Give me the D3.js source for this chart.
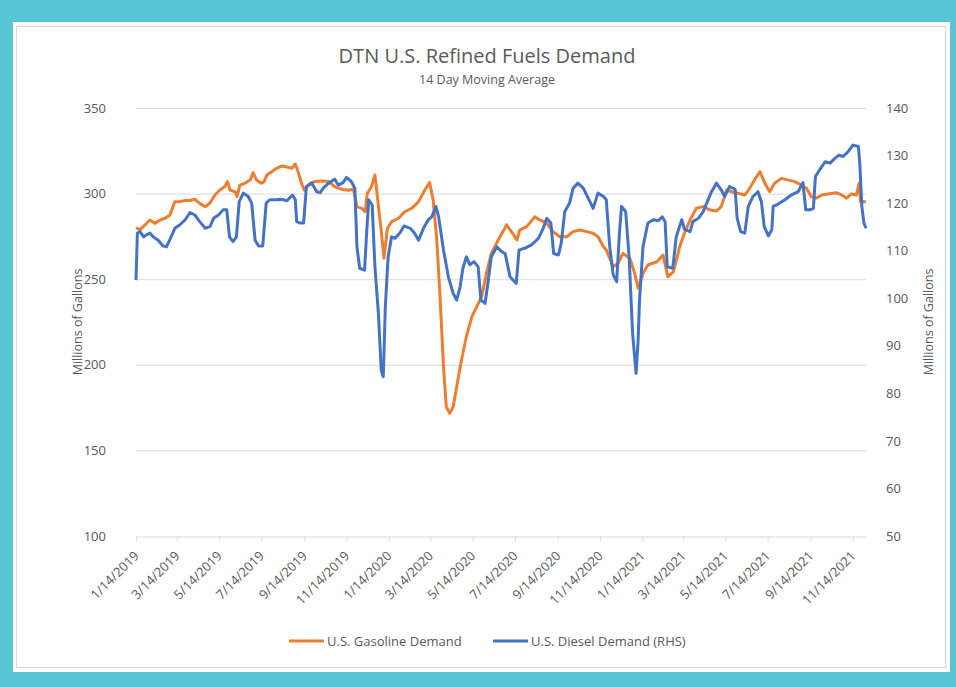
<!DOCTYPE html>
<html>
<head>
<meta charset="utf-8">
<script src="https://cdn.jsdelivr.net/npm/d3@7"></script>
<style>
  html, body { margin: 0; padding: 0; background: #58c5d6; }
  svg { display: block; font-family: "Open Sans", sans-serif; }
</style>
</head>
<body>
<div id="chart"></div>
<script>
// x tick labels (every two months)
const tickLabels = ["1/14/2019", "3/14/2019", "5/14/2019", "7/14/2019", "9/14/2019", "11/14/2019",
  "1/14/2020", "3/14/2020", "5/14/2020", "7/14/2020", "9/14/2020", "11/14/2020",
  "1/14/2021", "3/14/2021", "5/14/2021", "7/14/2021", "9/14/2021", "11/14/2021"];
const leftTicks = [100, 150, 200, 250, 300, 350];
const rightTicks = [50, 60, 70, 80, 90, 100, 110, 120, 130, 140];

// dates as Excel serial numbers, values in millions of gallons
const gasDays = [43479, 43485, 43492, 43499, 43506, 43514, 43521, 43528, 43535, 43542, 43550, 43557, 43564,
  43571, 43579, 43586, 43593, 43600, 43607, 43611, 43615, 43622, 43625, 43629, 43636, 43644, 43648, 43653,
  43660, 43664, 43668, 43675, 43682, 43689, 43697, 43704, 43709, 43713, 43718, 43722, 43730, 43737, 43747,
  43757, 43766, 43776, 43785, 43793, 43798, 43805, 43810, 43813, 43819, 43824, 43828, 43833, 43837, 43842,
  43848, 43858, 43867, 43877, 43887, 43896, 43903, 43908, 43913, 43918, 43923, 43927, 43932, 43937, 43942,
  43949, 43956, 43964, 43971, 43978, 43985, 43992, 44002, 44014, 44021, 44029, 44033, 44043, 44055, 44062,
  44072, 44081, 44091, 44101, 44110, 44120, 44130, 44139, 44146, 44154, 44158, 44168, 44175, 44182, 44192,
  44199, 44204, 44211, 44218, 44231, 44240, 44247, 44255, 44264, 44271, 44279, 44288, 44298, 44308, 44317,
  44324, 44332, 44339, 44348, 44358, 44365, 44372, 44380, 44387, 44394, 44401, 44411, 44420, 44430, 44440,
  44447, 44454, 44461, 44469, 44478, 44490, 44498, 44505, 44512, 44519, 44523, 44525, 44533];
const gasValues = [280, 279, 281.7, 284.6, 282.6, 284.6, 285.6, 287.5, 295.3, 295.3, 296, 296, 296.7,
  294.3, 292.3, 294.7, 299.2, 302.1, 304, 307, 302, 301.1, 298.2, 305, 306, 308, 312.2, 308,
  306, 307, 310.9, 312.8, 314.8, 316.1, 315.5, 314.8, 317.3, 312.8, 306, 302, 306, 307, 307.4,
  307, 304, 302.5, 302, 302.5, 292.4, 291.4, 289.4, 300.2, 304, 310.9, 296.3, 278.7, 262.2, 279.7,
  283.6, 285.6, 289.4, 291.4, 295.3, 302.1, 306.4, 296.3, 274.8, 239.8, 198.9, 175.5, 171.7, 175.5, 187.2,
  202.8, 216.4, 228.1, 234, 239.8, 253.4, 265.1, 272.9, 281.7, 277.8, 272.9, 278.7, 280.7, 286.5, 284.6,
  282.7, 277.8, 274.8, 274.8, 277.8, 278.7, 277.8, 276.8, 274.8, 269, 267.1, 257.3, 259.3, 265.1, 262.2,
  253.4, 244.7, 253.4, 258.3, 260.2, 264.1, 251.4, 254.4, 269, 277, 284.6, 291.4, 292.4, 290.4, 289.8,
  292.4, 302.1, 301.1, 300.2, 299.2, 303.1, 308, 312.8, 306, 301.1, 306, 308.9, 308, 307, 305,
  303.1, 298.2, 297.3, 299.2, 299.8, 300.5, 299.2, 297.3, 299.8, 299.2, 306, 295.3, 295.3];

const dieselDays = [43479, 43481, 43485, 43490, 43494, 43499, 43504, 43511, 43518, 43523, 43531, 43535, 43542,
  43550, 43557, 43564, 43571, 43579, 43586, 43591, 43598, 43605, 43610, 43614, 43619, 43624, 43628, 43634,
  43641, 43646, 43651, 43656, 43662, 43667, 43672, 43682, 43689, 43697, 43705, 43709, 43711, 43716, 43721,
  43725, 43733, 43740, 43745, 43749, 43757, 43766, 43771, 43778, 43783, 43790, 43795, 43798, 43802, 43809,
  43812, 43815, 43820, 43824, 43829, 43833, 43836, 43839, 43843, 43848, 43853, 43860, 43866, 43875, 43881,
  43887, 43894, 43901, 43906, 43912, 43916, 43923, 43930, 43937, 43942, 43947, 43951, 43956, 43961, 43967,
  43973, 43977, 43983, 43987, 43992, 44000, 44007, 44012, 44019, 44028, 44032, 44040, 44050, 44060, 44067,
  44072, 44078, 44082, 44089, 44093, 44098, 44105, 44110, 44117, 44125, 44132, 44139, 44146, 44154, 44158,
  44163, 44168, 44173, 44177, 44180, 44186, 44191, 44196, 44201, 44204, 44206, 44211, 44218, 44226, 44233,
  44239, 44243, 44246, 44254, 44259, 44267, 44271, 44279, 44283, 44291, 44298, 44303, 44310, 44317, 44324,
  44329, 44336, 44344, 44347, 44352, 44358, 44363, 44370, 44377, 44382, 44386, 44392, 44397, 44399, 44406,
  44416, 44425, 44435, 44442, 44446, 44452, 44457, 44460, 44466, 44474, 44481, 44488, 44494, 44500, 44507,
  44514, 44522, 44524, 44527, 44530, 44533];
const dieselValues = [103.8, 113.7, 114, 112.9, 113.3, 113.7, 112.9, 112.2, 111, 110.8, 113.3, 114.7, 115.4,
  116.5, 118, 117.5, 116.1, 114.7, 115.1, 116.8, 117.5, 118.6, 118.6, 112.9, 111.9, 112.9, 120.3, 122.1,
  121.4, 120, 112.2, 111, 111, 120, 120.7, 120.7, 120.8, 120.5, 121.7, 120.7, 116.1, 115.8, 115.8,
  123.5, 124.2, 122.4, 122.2, 123.1, 124.2, 125, 123.8, 124.3, 125.4, 124.5, 123.1, 110.8, 106.3, 105.9,
  113.7, 120.7, 119.6, 106.6, 96.8, 84.9, 83.5, 98.2, 108.7, 112.9, 112.6, 113.7, 115.2, 114.7, 113.7,
  112.2, 114.7, 116.5, 117.1, 119.3, 117.1, 110.1, 104.5, 101, 99.6, 102.4, 106.3, 108.7, 107, 107.7,
  106.6, 99.6, 98.9, 103.1, 108.7, 110.8, 109.8, 109.4, 104.5, 103.1, 110.1, 110.5, 111.2, 112.6, 114.7,
  116.8, 115.8, 109.4, 109.1, 111.6, 118.2, 120, 123.1, 124.2, 123.1, 121, 118.9, 122.1, 121.4, 120.7,
  110.8, 104.9, 103.5, 113.7, 119.3, 118.2, 108.7, 92.6, 84.2, 91.2, 99.6, 110.8, 115.8, 116.5, 116.3,
  117.1, 116.1, 106.6, 106.3, 112.9, 116.5, 114.5, 114, 116.1, 116.8, 118.2, 120, 122.4, 124.2, 122.8,
  121.4, 123.5, 122.9, 116.8, 114, 113.7, 119.3, 121.4, 122.4, 120.3, 115.1, 113.1, 114.4, 119.3, 119.8,
  120.7, 121.7, 122.4, 124.3, 118.6, 118.6, 118.9, 125.6, 127, 128.7, 128.4, 129.4, 130.1, 129.8, 130.8,
  132.2, 131.9, 128.4, 119.3, 115.8, 114.7];

const width = 956, height = 687;
const margin = {top: 108, right: 90, bottom: 151, left: 136};
const textColor = "#595959", gridColor = "#d9d9d9";
const gasColor = "#ed7d31", dieselColor = "#4472c4";

const excelDate = s => new Date(Date.UTC(1899, 11, 30) + s * 864e5);
const parseLabel = s => { const p = s.split("/"); return new Date(Date.UTC(+p[2], +p[0] - 1, +p[1])); };

const svg = d3.select("#chart").append("svg")
  .attr("width", width)
  .attr("height", height);

// white card with thin border
svg.append("rect").attr("x", 13).attr("y", 22).attr("width", 937).attr("height", 650).attr("fill", "#fff");
svg.append("rect").attr("x", 16.5).attr("y", 26.5).attr("width", 929).attr("height", 641)
  .attr("fill", "none").attr("stroke", gridColor);

const x = d3.scaleUtc()
  .domain([excelDate(gasDays[0]), excelDate(gasDays[gasDays.length - 1])])
  .range([margin.left, width - margin.right]);
const yLeft = d3.scaleLinear().domain([100, 350]).range([height - margin.bottom, margin.top]);
const yRight = d3.scaleLinear().domain([50, 140]).range([height - margin.bottom, margin.top]);

// gridlines on left axis
svg.append("g").selectAll("line")
  .data(leftTicks.slice(1))
  .enter().append("line")
  .attr("x1", margin.left).attr("x2", width - margin.right)
  .attr("y1", d => yLeft(d) + 0.5).attr("y2", d => yLeft(d) + 0.5)
  .attr("stroke", gridColor);

// x axis
const xAxis = d3.axisBottom(x)
  .tickValues(tickLabels.map(parseLabel))
  .tickFormat((d, i) => tickLabels[i])
  .tickSize(5)
  .tickSizeOuter(0);
const gx = svg.append("g")
  .attr("transform", "translate(0," + (height - margin.bottom + 0.5) + ")")
  .call(xAxis);
gx.select(".domain").attr("stroke", gridColor);
gx.selectAll(".tick line").attr("stroke", gridColor);
gx.selectAll(".tick text")
  .attr("fill", textColor)
  .attr("font-size", 13)
  .attr("font-family", "Open Sans")
  .attr("text-anchor", "end")
  .attr("x", -12).attr("y", 12).attr("dy", "0.35em")
  .attr("transform", "rotate(-45)");

// y axes (labels only)
const gl = svg.append("g")
  .attr("transform", "translate(" + margin.left + ",0)")
  .call(d3.axisLeft(yLeft).tickValues(leftTicks).tickSize(0).tickPadding(30));
gl.select(".domain").remove();
gl.selectAll("text").attr("fill", textColor).attr("font-size", 13).attr("font-family", "Open Sans");

const gr = svg.append("g")
  .attr("transform", "translate(" + (width - margin.right) + ",0)")
  .call(d3.axisRight(yRight).tickValues(rightTicks).tickSize(0).tickPadding(20));
gr.select(".domain").remove();
gr.selectAll("text").attr("fill", textColor).attr("font-size", 13).attr("font-family", "Open Sans");

// axis titles
svg.append("text")
  .attr("transform", "translate(82,322) rotate(-90)")
  .attr("text-anchor", "middle")
  .attr("fill", textColor).attr("font-size", 12.5)
  .text("Millions of Gallons");
svg.append("text")
  .attr("transform", "translate(933,322) rotate(-90)")
  .attr("text-anchor", "middle")
  .attr("fill", textColor).attr("font-size", 12.5)
  .text("Millions of Gallons");

// lines
const gasLine = d3.line()
  .x((d, i) => x(excelDate(gasDays[i])))
  .y(d => yLeft(d));
const dieselLine = d3.line()
  .x((d, i) => x(excelDate(dieselDays[i])))
  .y(d => yRight(d));

svg.append("path")
  .datum(gasValues)
  .attr("d", gasLine)
  .attr("fill", "none")
  .attr("stroke", gasColor)
  .attr("stroke-width", 3)
  .attr("stroke-linejoin", "round");

svg.append("path")
  .datum(dieselValues)
  .attr("d", dieselLine)
  .attr("fill", "none")
  .attr("stroke", dieselColor)
  .attr("stroke-width", 3)
  .attr("stroke-linejoin", "round");

// titles
svg.append("text")
  .attr("x", 487).attr("y", 63)
  .attr("text-anchor", "middle")
  .attr("fill", textColor).attr("font-size", 20)
  .text("DTN U.S. Refined Fuels Demand");
svg.append("text")
  .attr("x", 487).attr("y", 84)
  .attr("text-anchor", "middle")
  .attr("fill", textColor).attr("font-size", 12.5)
  .text("14 Day Moving Average");

// legend
const legend = [
  {name: "U.S. Gasoline Demand", color: gasColor, x: 289},
  {name: "U.S. Diesel Demand (RHS)", color: dieselColor, x: 493}
];
const lg = svg.append("g").selectAll("g")
  .data(legend)
  .enter().append("g")
  .attr("transform", d => "translate(" + d.x + ",641)");
lg.append("line")
  .attr("x1", 0).attr("x2", 35)
  .attr("stroke", d => d.color).attr("stroke-width", 3);
lg.append("text")
  .attr("x", 38).attr("dy", "0.35em")
  .attr("fill", textColor).attr("font-size", 13)
  .text(d => d.name);
</script>
</body>
</html>
